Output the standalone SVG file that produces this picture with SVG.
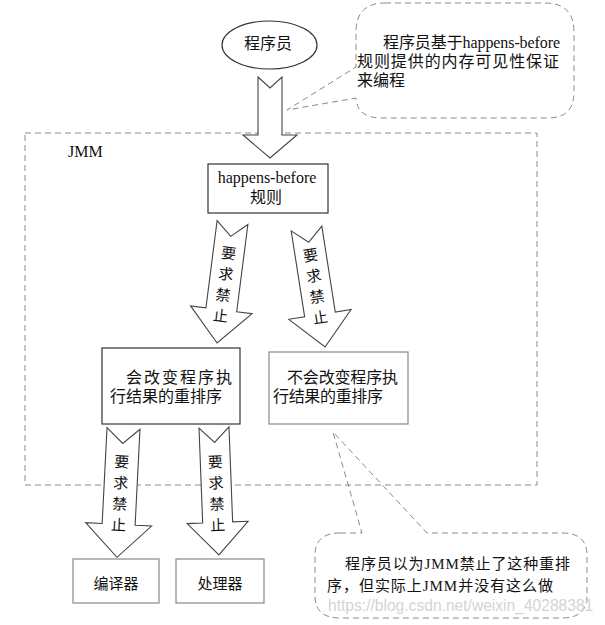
<svg xmlns="http://www.w3.org/2000/svg" width="605" height="625" viewBox="0 0 605 625">
<style>
.t{font-family:"Liberation Serif","Noto Sans CJK SC",serif;fill:#111;}
.f16{font-size:16px;}
.f15{font-size:15px;}
.box{fill:#fff;stroke:#333;stroke-width:1.2;}
.lbox{fill:#fff;stroke:#888;stroke-width:1.2;}
.dash{fill:none;stroke:#8a8a8a;stroke-width:1;stroke-dasharray:6 4;}
.arr{fill:#fff;stroke:#444;stroke-width:1.1;stroke-linejoin:miter;}
.wm{font-family:"Liberation Sans",Arial,sans-serif;font-size:15.6px;fill:#d4d4d4;}
</style>

<g id="jmm">
<rect class="dash" x="25" y="133" width="512" height="352"/>
<text class="t f16" x="68" y="157">JMM</text>
</g>

<g id="programmer">
<ellipse cx="269.5" cy="45" rx="47.5" ry="24" fill="#fff" stroke="#333" stroke-width="1.2"/>
<text class="t f16" x="268" y="48.5" text-anchor="middle">程序员</text>
</g>

<g id="note-top">
<path class="dash" d="M385,3 H545 Q574,3 574,32 V92 Q574,118 548,118 H382 Q357,118 356,98 L287,110 L356,67 V32 Q356,3 385,3 Z"/>
<text class="t f16" x="383" y="47.5" textLength="177" lengthAdjust="spacing">程序员基于happens-before</text>
<text class="t f16" x="357" y="66.5" textLength="202" lengthAdjust="spacing">规则提供的内存可见性保证</text>
<text class="t f16" x="357" y="85.5">来编程</text>
</g>

<g id="hb-rules">
<rect class="box" x="208" y="164" width="120" height="49"/>
<text class="t f16" x="267" y="183" text-anchor="middle">happens-before</text>
<text class="t f16" x="266" y="203" text-anchor="middle">规则</text>
</g>

<g id="change-reorder">
<rect class="box" x="102" y="348" width="138" height="76"/>
<text class="t f16" x="126" y="383" textLength="106" lengthAdjust="spacing">会改变程序执</text>
<text class="t f16" x="110" y="402" textLength="112" lengthAdjust="spacing">行结果的重排序</text>
</g>

<g id="nochange-reorder">
<rect class="lbox" x="269" y="352" width="139" height="72" stroke="#999"/>
<text class="t f16" x="287" y="383" textLength="111" lengthAdjust="spacing">不会改变程序执</text>
<text class="t f16" x="273" y="402" textLength="110" lengthAdjust="spacing">行结果的重排序</text>
</g>

<g id="compiler">
<rect class="lbox" x="73" y="559" width="86" height="44"/>
<text class="t f15" x="116" y="588.5" text-anchor="middle">编译器</text>
</g>

<g id="processor">
<rect class="lbox" x="176" y="559" width="88" height="44"/>
<text class="t f15" x="220" y="588.5" text-anchor="middle">处理器</text>
</g>

<g id="note-bottom">
<path class="dash" d="M340,533 H362 L333,432 L427,533 H562 Q587,533 587,555 V596 Q587,618 562,618 H340 Q315,618 315,596 V555 Q315,533 340,533 Z"/>
<text class="t f15" x="345" y="568.5" textLength="225" lengthAdjust="spacing">程序员以为JMM禁止了这种重排</text>
<text class="t f15" x="327" y="590.5" textLength="226" lengthAdjust="spacing">序，但实际上JMM并没有这么做</text>
</g>

<g id="connectors">
<g transform="translate(270,77)">
<path class="arr" d="M-12,0 L0,11 L12,0 V58 H27 L0,81 L-27,58 H-12 Z"/>
</g>
<g transform="translate(232.5,222.5) rotate(7.3)">
<path class="arr" d="M-15.5,0 L0,14 L15.5,0 V88 H31 L0,121.5 L-31,88 H-15.5 Z"/>
<g class="t f15" text-anchor="middle">
<text x="0" y="36.5">要</text><text x="0" y="57.5">求</text><text x="0" y="78.5">禁</text><text x="0" y="99.5">止</text>
</g>
</g>
<g transform="translate(306.5,228.5) rotate(-8.9)">
<path class="arr" d="M-15.5,0 L0,14 L15.5,0 V87 H31.5 L0,120 L-31.5,87 H-15.5 Z"/>
<g class="t f15" text-anchor="middle">
<text x="0" y="32.5">要</text><text x="0" y="53.5">求</text><text x="0" y="74.5">禁</text><text x="0" y="95.5">止</text>
</g>
</g>
<g transform="translate(123.5,428.5) rotate(2.9)">
<path class="arr" d="M-16.5,0 L0,15 L16.5,0 V96 H33 L0,129 L-33,96 H-16.5 Z"/>
<g class="t f15" text-anchor="middle">
<text x="0" y="39">要</text><text x="0" y="60">求</text><text x="0" y="81">禁</text><text x="0" y="102">止</text>
</g>
</g>
<g transform="translate(214,427.5) rotate(-2.2)">
<path class="arr" d="M-15,0 L0,15 L15,0 V95 H30.5 L0,127.5 L-30.5,95 H-15 Z"/>
<g class="t f15" text-anchor="middle">
<text x="0" y="40">要</text><text x="0" y="61">求</text><text x="0" y="82">禁</text><text x="0" y="103">止</text>
</g>
</g>
</g>

<text class="wm" x="328" y="611">https://blog.csdn.net/weixin_40288381</text>
</svg>
